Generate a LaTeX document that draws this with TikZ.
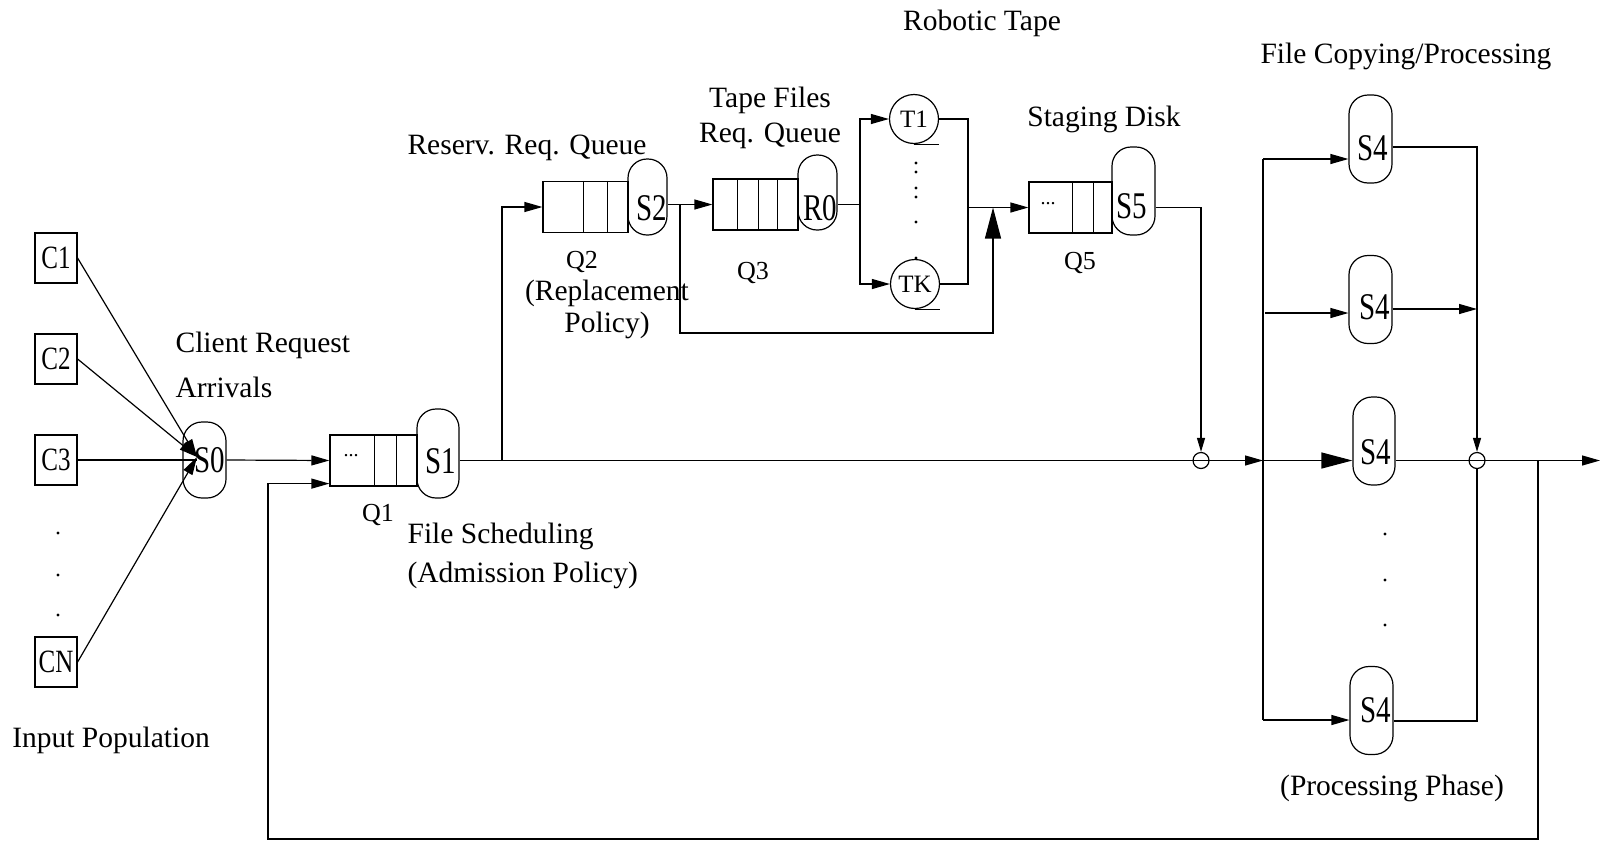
\documentclass[tikz,border=0pt]{standalone}
\usepackage{graphicx}
\usepackage{fontspec}
\setmainfont{Liberation Serif}
\usetikzlibrary{arrows.meta,calc,positioning}

\newcommand\tall[1]{\scalebox{1}[1.3]{#1}}

\tikzset{
  lbl/.style={font=\fontsize{29.5}{33}\selectfont, inner sep=0pt},
  qlbl/.style={font=\fontsize{26}{28}\selectfont, inner sep=0pt},
  srv/.style={font=\fontsize{29}{30}\selectfont, inner sep=0pt},
  client/.style={draw, minimum width=42pt, minimum height=50pt, inner sep=0pt,
                 font=\fontsize{25}{26}\selectfont},
  queue/.style={draw, minimum width=85pt, minimum height=51pt, inner sep=0pt},
  server/.style={draw, rounded corners=19pt, minimum width=43pt,
                 minimum height=88pt, inner sep=0pt},
  tape/.style={draw, circle, minimum size=49pt, inner sep=0pt,
               font=\fontsize{25}{26}\selectfont},
  joint/.style={draw, circle, minimum size=16pt, inner sep=0pt},
  arr/.style={-{Triangle[length=18pt,width=10pt]}},
  sarr/.style={-{Triangle[length=14pt,width=8pt]}},
  bigarr/.style={-{Triangle[length=31pt,width=16pt]}},
}

\begin{document}
\begin{tikzpicture}[x=1pt,y=-1pt,line width=1.2pt]
  \useasboundingbox (0,0) rectangle (1602,841);

  % input population
  \node[client] (c1) at (56,258) {\tall{C1}};
  \node[client] (c2) at (56,359) {\tall{C2}};
  \node[client] (c3) at (56,460) {\tall{C3}};
  \node[client] (cn) at (56,662) {\tall{CN}};
  \foreach \y in {533,575,615} \fill (58,\y) circle (1.6);
  \node[lbl] (inpop) at (111,740) {Input Population};

  % arrivals
  \node[server, minimum height=76pt, label={[srv,xshift=5pt]center:\tall{S0}}] (s0) at (204.5,460) {};
  \coordinate (s0in) at (197,457);
  \node[lbl, anchor=west, align=left, font=\fontsize{29.5}{45}\selectfont]
    (arrtxt) at (175,365) {Client Request\\Arrivals};
  \draw[arr] (c1.east) -- (s0in);
  \draw[arr] (c2.east) -- (s0in);
  \draw (c3.east) -- (s0in |- c3);
  \draw[arr] (cn.east) -- (s0in);

  % file scheduling
  \node[queue, minimum width=87pt] (q1) at (373.5,460.5) {};
  \foreach \d in {43,21}
    \draw ($(q1.north east)+(-\d,0)$) -- ($(q1.south east)+(-\d,0)$);
  \node[font=\fontsize{20}{20}\selectfont, inner sep=0pt] (q1dots) at (351,456) {...};
  \node[server, minimum height=89pt, minimum width=42pt,
        label={[srv,xshift=3pt,yshift=-7.5pt]center:\tall{S1}}] (s1) at (438,453.5) {};
  \node[qlbl] (q1lbl) at (378,515) {Q1};
  \node[lbl, anchor=west, align=left, font=\fontsize{29.5}{39}\selectfont]
    (fsched) at (407,556) {File Scheduling\\(Admission Policy)};
  \draw[arr] (s0.east) -- (q1.west);

  \coordinate (j1) at (502,460.5);
  \node[joint] (ca) at (1201,460.5) {};
  \coordinate (bc) at (1263,460.5);
  \draw[arr] (s1.east |- q1) -- (bc);

  % reservation queue
  \node[queue] (q2) at (585.5,207) {};
  \foreach \d in {45,21}
    \draw ($(q2.north east)+(-\d,0)$) -- ($(q2.south east)+(-\d,0)$);
  \node[server, minimum height=76pt, minimum width=39pt,
        label={[srv,xshift=4.5pt,yshift=-11pt]center:\tall{S2}}] (s2) at (647.5,197) {};
  \node[lbl] (resq) at (527,148) {Reserv. Req. Queue};
  \node[qlbl] (q2lbl) at (582,262) {Q2};
  \node[lbl, align=center, font=\fontsize{29.5}{32}\selectfont]
    (repl) at (607,309) {(Replacement\\Policy)};
  \draw[arr] (j1) |- (q2.west);

  % tape files queue
  \node[queue] (q3) at (755.5,204.5) {};
  \foreach \d in {61,40,21}
    \draw ($(q3.north east)+(-\d,0)$) -- ($(q3.south east)+(-\d,0)$);
  \node[server, minimum height=75pt, minimum width=39pt,
        label={[srv,xshift=2.5pt,yshift=-15.5pt]center:\tall{R0}}] (r0) at (817.5,192.5) {};
  \node[qlbl] (q3lbl) at (753,273) {Q3};
  \node[lbl, align=center, font=\fontsize{29.5}{35}\selectfont]
    (tfq) at (770,118) {Tape Files\\Req. Queue};
  \coordinate (j2) at (680,204.5);
  \draw[arr] (s2.east |- q3) -- (q3.west);

  % robotic tape
  \node[lbl] (robot) at (982,23) {Robotic Tape};
  \node[tape] (t1) at (914,119) {T1};
  \node[tape] (tk) at (915,284) {TK};
  \draw (t1.south) -- (t1.south -| t1.east);
  \draw (tk.south) -- (tk.south -| tk.east);
  \foreach \y in {163,172,188,197,222,258} \fill (916,\y) circle (1.6);
  \coordinate (tb) at (860,204.5);
  \draw (r0.east |- q3) -- (tb);
  \draw[arr] (tb) |- (t1.west);
  \draw[arr] (tb) |- (tk.west);
  \coordinate (tj) at (968,207.5);
  \draw (t1.east) -| (tj) |- (tk.east);

  % staging disk
  \node[queue, minimum width=83pt] (q5) at (1070.5,207.5) {};
  \foreach \d in {40,19}
    \draw ($(q5.north east)+(-\d,0)$) -- ($(q5.south east)+(-\d,0)$);
  \node[font=\fontsize{20}{20}\selectfont, inner sep=0pt] (q5dots) at (1048,204) {...};
  \node[server, label={[srv,xshift=-2pt,yshift=-15pt]center:\tall{S5}}] (s5) at (1133.5,191) {};
  \node[lbl] (stage) at (1104,119) {Staging Disk};
  \node[qlbl] (q5lbl) at (1080,263) {Q5};
  \draw[arr] (tj) -- (q5.west);
  \coordinate (byp) at (993,333);
  \coordinate (j4) at (993,207.5);
  \draw[bigarr] (j2) |- (byp) -- (j4);
  \draw[sarr] (s5.east |- q5) -| (ca.north);

  % file copying / processing
  \node[lbl] (fcp) at (1406,56) {File Copying/Processing};
  \node[server, label={[srv,xshift=2.5pt,yshift=-9pt]center:\tall{S4}}] (s4a) at (1370.5,139) {};
  \node[server, label={[srv,xshift=4.5pt,yshift=-8pt]center:\tall{S4}}] (s4b) at (1370.5,299.5) {};
  \node[server, minimum width=42pt,
        label={[srv,xshift=2pt,yshift=-11pt]center:\tall{S4}}] (s4c) at (1374,441) {};
  \node[server, label={[srv,xshift=4pt]center:\tall{S4}}] (s4d) at (1371.5,710.5) {};
  \foreach \y in {534,580,625} \fill (1385,\y) circle (1.6);
  \node[lbl] (phase) at (1392,788) {(Processing Phase)};
  \node[joint] (cb) at (1477,460.5) {};

  \coordinate (ba) at (1263,159);
  \coordinate (bb) at (1265,313);
  \coordinate (bd) at (1263,720);
  \coordinate (ra) at (1477,147);
  \coordinate (rb) at (1477,309);
  \coordinate (rd) at (1477,721);
  \draw (ba) -- (bd);
  \draw[arr] (ba) -- (ba -| s4a.west);
  \draw[arr] (bb) -- (bb -| s4b.west);
  \draw[bigarr] (bc) -- (bc -| s4c.west);
  \draw[arr] (bd) -- (bd -| s4d.west);
  \draw[sarr] (s4a.east |- ra) -| (cb.north);
  \draw[arr] (s4b.east |- rb) -- (rb);
  \draw (s4d.east |- rd) -| (cb.south);

  % output and feedback
  \coordinate (out) at (1600,460.5);
  \coordinate (fb) at (1538,460.5);
  \draw[arr] (s4c.east |- cb) -- (out);
  \coordinate (fbr) at (1538,839);
  \coordinate (fbl) at (268,839);
  \draw[arr] (fb) -- (fbr) -- (fbl) |- ([yshift=3pt]q1.south west);
\end{tikzpicture}
\end{document}
